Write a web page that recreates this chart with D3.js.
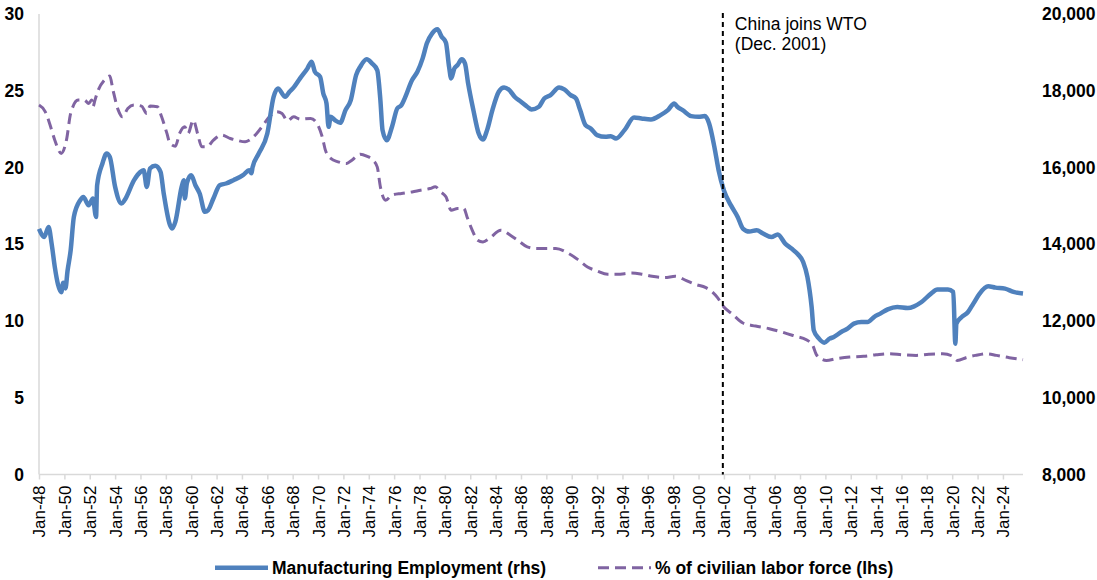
<!DOCTYPE html>
<html>
<head>
<meta charset="utf-8">
<script src="https://cdn.jsdelivr.net/npm/d3@7"></script>
<style>
  html, body { margin: 0; padding: 0; background: #fff; }
  svg { display: block; font-family: "Liberation Sans", Arial, sans-serif; }
</style>
</head>
<body>
<svg id="chart" width="1097" height="580"></svg>
<script>
// ---- Data ----
const empDates = ["1948-01","1948-06","1948-10","1949-01","1949-04","1949-07","1949-10","1949-12","1950-02","1950-04","1950-07","1950-10","1951-04","1951-07","1951-12","1952-04","1952-07","1952-08","1953-01","1953-05","1953-08","1954-01","1954-07","1954-10","1955-07","1956-01","1956-04","1956-07","1956-10","1957-03","1957-08","1957-11","1958-05","1958-07","1958-10","1959-04","1959-06","1959-07","1959-09","1960-01","1960-05","1960-09","1961-02","1961-05","1961-10","1962-04","1962-10","1963-05","1964-02","1964-08","1964-10","1964-11","1965-05","1966-01","1966-07","1966-11","1967-06","1967-10","1968-02","1968-08","1969-03","1969-07","1969-10","1970-03","1970-06","1970-09","1970-11","1971-01","1971-05","1971-10","1972-03","1972-08","1973-01","1973-05","1973-11","1974-04","1974-09","1974-12","1975-02","1975-06","1975-11","1976-04","1976-08","1976-11","1977-06","1977-11","1978-04","1978-08","1979-01","1979-06","1979-10","1980-02","1980-05","1980-07","1980-10","1981-01","1981-05","1981-08","1981-11","1982-04","1982-09","1983-01","1983-05","1983-10","1984-04","1984-09","1985-02","1985-07","1986-01","1986-07","1986-11","1987-06","1987-11","1988-05","1989-01","1989-06","1989-12","1990-05","1990-09","1991-02","1991-07","1992-01","1992-09","1993-02","1993-07","1994-03","1994-12","1995-07","1996-04","1997-01","1997-08","1998-02","1998-05","1998-10","1999-06","2000-01","2000-07","2000-11","2001-04","2001-08","2002-01","2002-08","2003-02","2003-07","2004-01","2004-08","2005-02","2005-10","2006-04","2006-11","2007-05","2007-11","2008-04","2008-08","2008-12","2009-02","2009-07","2009-12","2010-05","2010-09","2011-04","2011-10","2012-04","2012-11","2013-05","2013-11","2014-05","2014-12","2015-09","2016-07","2017-01","2017-08","2018-05","2018-11","2019-09","2020-02","2020-04","2020-05","2020-10","2021-04","2021-09","2022-03","2022-11","2023-06","2024-03","2024-11","2025-08"];
const empValues = [14400,14190,14450,14000,13400,12950,12750,13000,12850,13300,13843,14713,15148,15234,15017,15192,14713,15539,16105,16366,16277,15495,15060,15148,15670,15886,15930,15495,15973,16043,15886,15322,14496,14409,14583,15495,15670,15192,15600,15800,15539,15322,14844,14887,15192,15539,15583,15670,15800,15930,15850,16000,16366,16887,17843,18061,17843,17974,18087,18322,18583,18757,18496,18366,17930,17670,17061,17322,17235,17165,17496,17757,18409,18626,18818,18714,18539,17757,16974,16713,17061,17540,17626,17800,18278,18496,18844,19235,19496,19600,19409,19252,18626,18322,18583,18670,18818,18714,18192,17496,16887,16731,16974,17496,17974,18087,18017,17843,17713,17583,17513,17583,17800,17887,18087,18035,17887,17800,17496,17105,17018,16844,16800,16817,16757,16974,17305,17279,17253,17365,17496,17670,17583,17496,17339,17322,17339,17148,16539,15930,15400,15000,14713,14409,14330,14365,14279,14190,14253,14018,13888,13739,13539,13148,12365,11757,11540,11435,11540,11583,11713,11800,11931,11974,11974,12104,12192,12304,12365,12339,12383,12495,12714,12818,12818,12757,11409,11931,12104,12235,12453,12714,12904,12870,12844,12757,12714];

const lfDates = ["1948-01","1948-07","1948-11","1949-04","1949-10","1950-03","1950-07","1951-02","1951-08","1951-12","1952-03","1952-04","1952-06","1952-09","1953-03","1953-08","1953-11","1954-04","1954-08","1955-01","1955-07","1956-02","1956-07","1956-10","1957-05","1957-09","1958-02","1958-05","1958-10","1959-02","1959-07","1959-10","1960-03","1960-07","1960-11","1961-04","1961-10","1962-06","1963-02","1963-08","1964-04","1964-08","1965-03","1965-09","1966-03","1966-10","1967-03","1967-08","1968-02","1968-08","1969-06","1969-12","1970-05","1970-08","1971-01","1971-08","1972-04","1972-09","1973-05","1973-11","1974-05","1974-09","1974-12","1975-05","1975-11","1976-08","1977-06","1978-02","1978-11","1979-04","1979-09","1980-02","1980-07","1981-01","1981-07","1981-10","1982-03","1982-08","1983-01","1983-07","1984-06","1985-03","1985-10","1986-07","1987-04","1988-02","1988-10","1989-09","1990-07","1991-04","1992-01","1992-11","1993-08","1994-10","1995-08","1996-05","1997-05","1998-03","1999-01","1999-10","2000-08","2001-02","2001-07","2002-01","2002-09","2003-07","2004-07","2005-08","2006-08","2007-09","2008-07","2009-01","2009-05","2010-02","2010-11","2011-12","2013-01","2014-01","2015-01","2016-02","2017-03","2018-03","2019-04","2020-01","2020-06","2021-02","2021-11","2022-09","2023-07","2024-07","2025-08"];
const lfValues = [24.07,23.63,22.87,21.78,20.92,21.78,23.52,24.39,24.39,24.17,24.39,23.95,24.4,25.04,25.70,25.96,25.04,23.74,23.30,23.85,24.07,24.0,23.52,24.0,23.96,23.30,22.22,21.57,21.39,22.22,22.65,22.22,23.09,22.22,21.35,21.35,21.78,22.11,21.89,21.78,21.67,21.78,22.22,22.76,23.30,23.63,23.52,23.04,23.30,23.15,23.20,22.87,22.0,21.13,20.59,20.37,20.26,20.48,20.87,20.74,20.48,20.04,18.74,17.87,18.20,18.31,18.41,18.52,18.63,18.74,18.41,18.09,17.22,17.33,17.33,16.78,15.91,15.26,15.15,15.37,15.91,15.59,15.26,14.83,14.72,14.72,14.72,14.44,14.0,13.52,13.26,13.04,13.04,13.13,13.04,12.91,12.83,12.91,12.65,12.39,12.17,11.89,11.52,10.91,10.45,9.87,9.67,9.50,9.28,9.0,8.78,8.41,7.76,7.43,7.54,7.65,7.70,7.80,7.87,7.80,7.76,7.83,7.87,7.72,7.43,7.61,7.76,7.87,7.76,7.61,7.48];

const xTickLabels = ["Jan-48","Jan-50","Jan-52","Jan-54","Jan-56","Jan-58","Jan-60","Jan-62","Jan-64","Jan-66","Jan-68","Jan-70","Jan-72","Jan-74","Jan-76","Jan-78","Jan-80","Jan-82","Jan-84","Jan-86","Jan-88","Jan-90","Jan-92","Jan-94","Jan-96","Jan-98","Jan-00","Jan-02","Jan-04","Jan-06","Jan-08","Jan-10","Jan-12","Jan-14","Jan-16","Jan-18","Jan-20","Jan-22","Jan-24"];
const leftTicks = [0, 5, 10, 15, 20, 25, 30];
const rightTicks = [8000, 10000, 12000, 14000, 16000, 18000, 20000];
const xStart = "1948-01", xEnd = "2025-08";
const wtoDate = "2001-12";
const annotationLines = ["China joins WTO", "(Dec. 2001)"];
const seriesNames = ["Manufacturing Employment (rhs)", "% of civilian labor force (lhs)"];

// ---- Chart ----
(function () {
const parseYM = d3.timeParse("%Y-%m");
const parseTick = s => { const yy = +s.slice(4); return new Date(yy >= 40 ? 1900 + yy : 2000 + yy, 0, 1); };
const svg = d3.select("#chart");
const pLeft = 39, pRight = 1023, pTop = 14, pBottom = 474.5;
const blue = "#4F81BD", purple = "#8064A2", axisGray = "#D9D9D9";
const FONT = '"Liberation Sans", Arial, sans-serif';

const x = d3.scaleTime().domain([parseYM(xStart), parseYM(xEnd)]).range([pLeft, pRight]);
const yL = d3.scaleLinear().domain([0, 30]).range([pBottom, pTop]);
const yR = d3.scaleLinear().domain([8000, 20000]).range([pBottom, pTop]);

svg.append("line").attr("x1", pLeft).attr("x2", pLeft).attr("y1", pTop).attr("y2", pBottom)
  .attr("stroke", axisGray).attr("stroke-width", 1.5);

const xAxis = d3.axisBottom(x).tickValues(xTickLabels.map(parseTick)).tickSize(5)
  .tickFormat((d, i) => xTickLabels[i]);
const gx = svg.append("g").attr("transform", `translate(0,${pBottom})`).call(xAxis);
gx.select(".domain").attr("stroke", axisGray).attr("stroke-width", 1.5)
  .attr("d", `M${pLeft},0H${pRight}`);
gx.selectAll(".tick line").attr("stroke", axisGray).attr("stroke-width", 1.5);
gx.selectAll(".tick text")
  .attr("transform", "rotate(-90)")
  .attr("text-anchor", "end")
  .attr("x", -11).attr("y", 0).attr("dy", "0.35em")
  .attr("fill", "#000")
  .style("font-size", "17px")
  .style("font-family", FONT);

const yAxisL = d3.axisLeft(yL).tickValues(leftTicks).tickSize(0).tickPadding(15);
const gl = svg.append("g").attr("transform", `translate(${pLeft},0)`).call(yAxisL);
gl.select(".domain").remove();
gl.selectAll(".tick text").attr("fill", "#000").style("font-size", "17.5px").style("font-weight", "bold")
  .style("font-family", FONT);

const yAxisR = d3.axisRight(yR).tickValues(rightTicks).tickSize(0).tickPadding(19).tickFormat(d3.format(","));
const gr = svg.append("g").attr("transform", `translate(${pRight},0)`).call(yAxisR);
gr.select(".domain").remove();
gr.selectAll(".tick text").attr("fill", "#000").style("font-size", "17.5px").style("font-weight", "bold")
  .style("font-family", FONT);

const empData = empDates.map((d, i) => ({ date: parseYM(d), v: empValues[i] }));
const lfData = lfDates.map((d, i) => ({ date: parseYM(d), v: lfValues[i] }));

svg.append("path").datum(lfData)
  .attr("fill", "none").attr("stroke", purple).attr("stroke-width", 3)
  .attr("stroke-dasharray", "11,6")
  .attr("d", d3.line().x(d => x(d.date)).y(d => yL(d.v)).curve(d3.curveMonotoneX));

svg.append("path").datum(empData)
  .attr("fill", "none").attr("stroke", blue).attr("stroke-width", 4.5)
  .attr("stroke-linejoin", "round")
  .attr("d", d3.line().x(d => x(d.date)).y(d => yR(d.v)).curve(d3.curveMonotoneX));

const wx = x(parseYM(wtoDate));
svg.append("line").attr("x1", wx).attr("x2", wx).attr("y1", pTop - 1).attr("y2", pBottom)
  .attr("stroke", "#000").attr("stroke-width", 2).attr("stroke-dasharray", "5,4");

const ann = svg.append("text").attr("x", wx + 12).attr("y", 29.5)
  .style("font-size", "17.5px").style("font-family", FONT).attr("fill", "#000");
annotationLines.forEach((t, i) => ann.append("tspan").attr("x", wx + 12).attr("dy", i === 0 ? 0 : 20).text(t));

const legY = 567.7;
const leg = [
  { x0: 215, name: seriesNames[0], color: blue, dash: null, w: 4.5 },
  { x0: 598, name: seriesNames[1], color: purple, dash: "11,6", w: 3 }
];
leg.forEach(l => {
  svg.append("line").attr("x1", l.x0).attr("x2", l.x0 + 53).attr("y1", legY).attr("y2", legY)
    .attr("stroke", l.color).attr("stroke-width", l.w).attr("stroke-dasharray", l.dash);
  svg.append("text").attr("x", l.x0 + 57).attr("y", legY).attr("dy", "0.35em")
    .style("font-size", "17.5px").style("font-weight", "bold").style("font-family", FONT)
    .attr("fill", "#000").text(l.name);
});
})();
</script>
</body>
</html>
